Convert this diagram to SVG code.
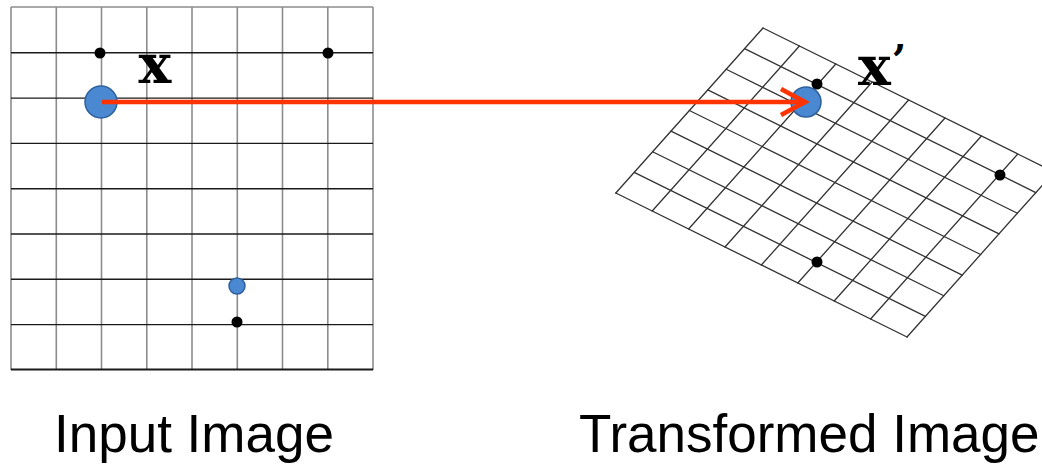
<svg xmlns="http://www.w3.org/2000/svg" width="1042" height="465" viewBox="0 0 1042 465">
<defs>
<style>
.vg{stroke:#8c8c8c;stroke-width:1.6;fill:none}
.hg{stroke:#1a1a1a;stroke-width:1.4;fill:none}
.tg{stroke:#333;stroke-width:1.3;fill:none;stroke-linecap:round}
.dot{fill:#000}
.blue{fill:#4a88d2;stroke:#2d5f9c;stroke-width:1.5}
.arrow{stroke:#ff3300;stroke-width:4.5;fill:none}
.lbl{font-family:"DejaVu Serif","Liberation Serif",serif;font-weight:bold;font-size:55px;fill:#000}
.cap{font-family:"Liberation Sans",Arial,sans-serif;font-size:53px;fill:#000}
</style>
<marker id="chev" viewBox="0 0 30 30" refX="26" refY="15" markerWidth="30" markerHeight="30" markerUnits="userSpaceOnUse" orient="auto">
<polyline points="2,2 26,15 2,28" fill="none" stroke="#ff3300" stroke-width="4.5" stroke-linejoin="miter"/>
</marker>
</defs>

<g id="input-grid">
<g class="vg">
<line x1="11" y1="7" x2="11" y2="370"/>
<line x1="56.3" y1="7" x2="56.3" y2="370"/>
<line x1="101.5" y1="7" x2="101.5" y2="370"/>
<line x1="146.8" y1="7" x2="146.8" y2="370"/>
<line x1="192" y1="7" x2="192" y2="370"/>
<line x1="237.3" y1="7" x2="237.3" y2="370"/>
<line x1="282.5" y1="7" x2="282.5" y2="370"/>
<line x1="327.8" y1="7" x2="327.8" y2="370"/>
<line x1="373" y1="7" x2="373" y2="370"/>
<line x1="11" y1="7" x2="373" y2="7"/>
</g>
<g class="hg">
<line x1="11" y1="52.8" x2="373" y2="52.8"/>
<line x1="11" y1="98.1" x2="373" y2="98.1"/>
<line x1="11" y1="143.4" x2="373" y2="143.4"/>
<line x1="11" y1="188.7" x2="373" y2="188.7"/>
<line x1="11" y1="234" x2="373" y2="234"/>
<line x1="11" y1="279.3" x2="373" y2="279.3"/>
<line x1="11" y1="324.6" x2="373" y2="324.6"/>
<line x1="11" y1="369.5" x2="373" y2="369.5" stroke-width="2"/>
</g>
<circle class="dot" cx="100" cy="53" r="5.5"/>
<circle class="dot" cx="328" cy="53" r="5.5"/>
<circle class="dot" cx="237" cy="322" r="5.5"/>
<circle class="blue" cx="101" cy="102" r="16"/>
<circle class="blue" cx="237" cy="286" r="8"/>
</g>

<g id="transformed-grid">
<g class="tg">
<line x1="763" y1="28" x2="615.8" y2="193"/>
<line x1="799.4" y1="46" x2="652.2" y2="211"/>
<line x1="835.8" y1="64" x2="688.6" y2="229"/>
<line x1="872.2" y1="82" x2="725" y2="247"/>
<line x1="908.6" y1="100" x2="761.4" y2="265"/>
<line x1="945" y1="118" x2="797.8" y2="283"/>
<line x1="981.4" y1="136" x2="834.2" y2="301"/>
<line x1="1017.8" y1="154" x2="870.6" y2="319"/>
<line x1="1054.2" y1="172" x2="907" y2="337"/>
<line x1="763" y1="28" x2="1054.2" y2="172"/>
<line x1="744.6" y1="48.6" x2="1035.8" y2="192.6"/>
<line x1="726.2" y1="69.25" x2="1017.4" y2="213.25"/>
<line x1="707.8" y1="89.9" x2="999" y2="233.9"/>
<line x1="689.4" y1="110.5" x2="980.6" y2="254.5"/>
<line x1="671" y1="131.1" x2="962.2" y2="275.1"/>
<line x1="652.6" y1="151.75" x2="943.8" y2="295.75"/>
<line x1="634.2" y1="172.4" x2="925.4" y2="316.4"/>
<line x1="615.8" y1="193" x2="907" y2="337"/>
</g>
<circle class="dot" cx="817" cy="84" r="5.5"/>
<circle class="dot" cx="1000" cy="175" r="5.5"/>
<circle class="dot" cx="817" cy="262" r="5.5"/>
<circle class="blue" cx="806" cy="102" r="15"/>
</g>

<g id="connectors">
<line class="arrow" x1="102" y1="102" x2="805" y2="102" marker-end="url(#chev)"/>
</g>

<g id="labels">
<text class="lbl" x="155" y="83" text-anchor="middle">x</text>
<text class="lbl" x="858" y="85">x<tspan dx="1" dy="-10" font-size="42">’</tspan></text>
<text class="cap" x="54" y="452">Input Image</text>
<text class="cap" x="579" y="452">Transformed Image</text>
</g>
</svg>
